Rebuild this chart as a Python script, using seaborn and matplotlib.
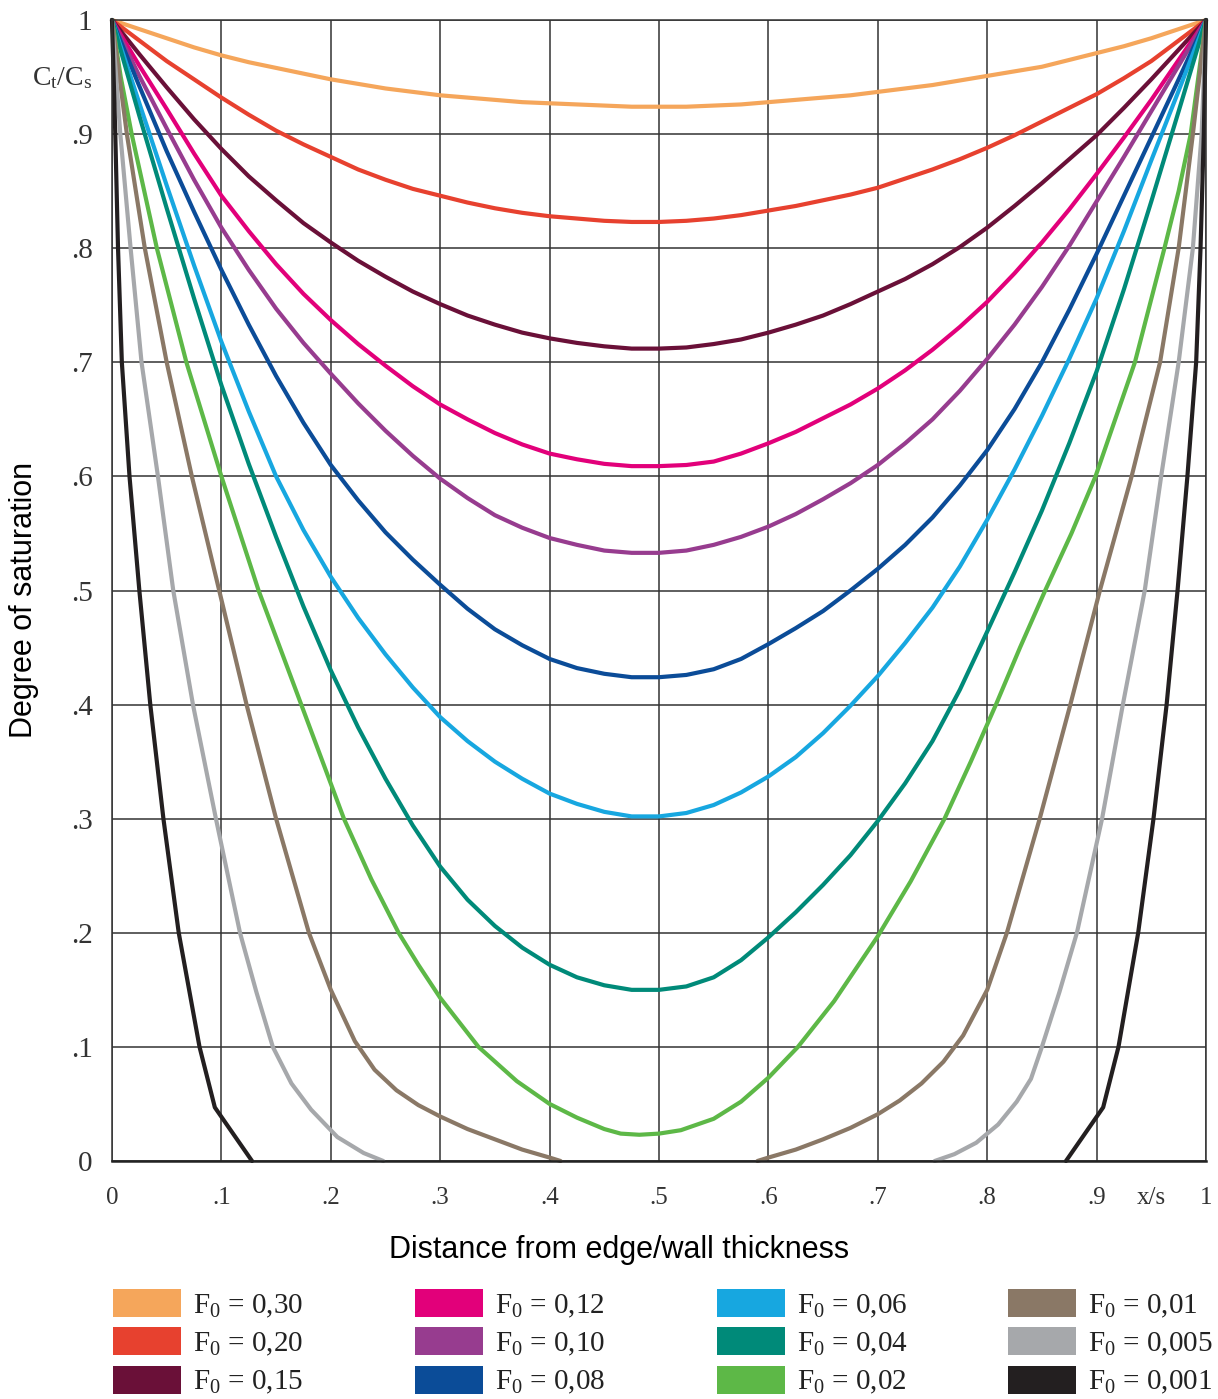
import numpy as np
import pandas as pd
import matplotlib
matplotlib.use("Agg")
import matplotlib.pyplot as plt
from matplotlib.patches import Patch
import seaborn as sns

# ---------------------------------------------------------------------------
# Saturation profiles C_t/C_s across the wall for several Fourier numbers
# ---------------------------------------------------------------------------
FO_LABELS = ["0,30", "0,20", "0,15", "0,12", "0,10", "0,08",
             "0,06", "0,04", "0,02", "0,01", "0,005", "0,001"]
FO_COLORS = ["#F5A65B", "#E7412F", "#6A1038", "#E2007A", "#973C8F", "#0B4C98",
             "#17A7E0", "#008A79", "#5DB847", "#8A7866", "#A6A8AB", "#231F20"]

# shared positions (x/s) for the shallow profiles, step 0.025
X_GRID = [0.000, 0.025, 0.050, 0.075, 0.100, 0.125, 0.150, 0.175, 0.200, 0.225,
          0.250, 0.275, 0.300, 0.325, 0.350, 0.375, 0.400, 0.425, 0.450, 0.475,
          0.500, 0.525, 0.550, 0.575, 0.600, 0.625, 0.650, 0.675, 0.700, 0.725,
          0.750, 0.775, 0.800, 0.825, 0.850, 0.875, 0.900, 0.925, 0.950, 0.975,
          1.000]

Y_030 = [1.000, 0.992, 0.984, 0.976, 0.969, 0.963, 0.958, 0.953, 0.948, 0.944,
         0.940, 0.937, 0.934, 0.932, 0.930, 0.928, 0.927, 0.926, 0.925, 0.924,
         0.924, 0.924, 0.925, 0.926, 0.928, 0.930, 0.932, 0.934, 0.937, 0.940,
         0.943, 0.947, 0.951, 0.955, 0.959, 0.965, 0.971, 0.977, 0.984, 0.992,
         1.000]
Y_020 = [1.000, 0.982, 0.964, 0.948, 0.932, 0.917, 0.903, 0.891, 0.880, 0.869,
         0.860, 0.852, 0.846, 0.840, 0.835, 0.831, 0.828, 0.826, 0.824, 0.823,
         0.823, 0.824, 0.826, 0.829, 0.833, 0.837, 0.842, 0.847, 0.853, 0.861,
         0.869, 0.878, 0.888, 0.899, 0.911, 0.923, 0.935, 0.949, 0.964, 0.982,
         1.000]
Y_015 = [1.000, 0.970, 0.941, 0.913, 0.887, 0.863, 0.842, 0.822, 0.805, 0.789,
         0.775, 0.762, 0.751, 0.741, 0.733, 0.726, 0.721, 0.717, 0.714, 0.712,
         0.712, 0.713, 0.716, 0.720, 0.726, 0.733, 0.741, 0.751, 0.762, 0.773,
         0.786, 0.801, 0.818, 0.837, 0.857, 0.878, 0.899, 0.923, 0.948, 0.974,
         1.000]
Y_012 = [1.000, 0.960, 0.922, 0.883, 0.846, 0.815, 0.786, 0.760, 0.737, 0.716,
         0.697, 0.679, 0.663, 0.650, 0.638, 0.628, 0.620, 0.615, 0.611, 0.609,
         0.609, 0.610, 0.613, 0.620, 0.629, 0.639, 0.651, 0.663, 0.677, 0.693,
         0.711, 0.731, 0.753, 0.778, 0.805, 0.834, 0.865, 0.897, 0.930, 0.965,
         1.000]
Y_010 = [1.000, 0.951, 0.905, 0.860, 0.818, 0.781, 0.747, 0.717, 0.690, 0.664,
         0.640, 0.618, 0.598, 0.581, 0.566, 0.555, 0.546, 0.540, 0.535, 0.533,
         0.533, 0.535, 0.540, 0.547, 0.556, 0.567, 0.580, 0.594, 0.610, 0.629,
         0.650, 0.675, 0.703, 0.733, 0.766, 0.802, 0.841, 0.880, 0.920, 0.960,
         1.000]
Y_008 = [1.000, 0.942, 0.885, 0.832, 0.781, 0.733, 0.688, 0.647, 0.610, 0.579,
         0.551, 0.527, 0.505, 0.484, 0.466, 0.452, 0.440, 0.432, 0.427, 0.424,
         0.424, 0.426, 0.431, 0.440, 0.453, 0.467, 0.482, 0.500, 0.519, 0.540,
         0.564, 0.592, 0.623, 0.659, 0.700, 0.746, 0.795, 0.846, 0.897, 0.948,
         1.000]
Y_006 = [1.000, 0.927, 0.855, 0.785, 0.718, 0.657, 0.600, 0.553, 0.512, 0.476,
         0.444, 0.415, 0.389, 0.368, 0.350, 0.335, 0.322, 0.313, 0.306, 0.302,
         0.302, 0.305, 0.312, 0.323, 0.337, 0.354, 0.375, 0.399, 0.425, 0.454,
         0.485, 0.521, 0.562, 0.606, 0.653, 0.703, 0.756, 0.815, 0.877, 0.938,
         1.000]
Y_004 = [1.000, 0.916, 0.835, 0.756, 0.680, 0.611, 0.547, 0.486, 0.430, 0.380,
         0.335, 0.294, 0.258, 0.229, 0.206, 0.187, 0.172, 0.161, 0.154, 0.150,
         0.150, 0.153, 0.161, 0.176, 0.196, 0.218, 0.242, 0.268, 0.298, 0.331,
         0.368, 0.413, 0.464, 0.516, 0.570, 0.629, 0.692, 0.764, 0.841, 0.920,
         1.000]

# steeper profile, sampled along the curve
X_002 = [0, 0.008, 0.018, 0.041, 0.068, 0.10, 0.134, 0.173, 0.212, 0.237,
         0.262, 0.28, 0.30, 0.335, 0.37, 0.40, 0.425, 0.45, 0.465, 0.482,
         0.50, 0.52, 0.55, 0.575, 0.60, 0.627, 0.66, 0.70, 0.73, 0.761,
         0.785, 0.808, 0.83, 0.853, 0.877, 0.899, 0.935, 0.962, 0.975, 0.986,
         0.993, 1]
Y_002 = [1, 0.95, 0.9, 0.8, 0.7, 0.6, 0.5, 0.4, 0.3, 0.247,
         0.2, 0.172, 0.143, 0.1, 0.07, 0.050, 0.038, 0.028, 0.024, 0.023,
         0.024, 0.027, 0.037, 0.052, 0.073, 0.1, 0.14, 0.197, 0.245, 0.3,
         0.35, 0.4, 0.45, 0.5, 0.55, 0.6, 0.7, 0.8, 0.85, 0.9,
         0.95, 1]

# profiles that reach zero in the core: left and right branches
X_001_L = [0, 0.0136, 0.030, 0.050, 0.073, 0.098, 0.123, 0.150, 0.180, 0.200,
           0.222, 0.240, 0.260, 0.280, 0.300, 0.325, 0.350, 0.375, 0.400, 0.410]
Y_001_L = [1, 0.9, 0.8, 0.7, 0.6, 0.5, 0.4, 0.3, 0.2, 0.15,
           0.105, 0.080, 0.062, 0.049, 0.039, 0.028, 0.019, 0.010, 0.003, 0]
X_001_R = [0.59, 0.600, 0.625, 0.650, 0.675, 0.700, 0.720, 0.740, 0.760, 0.778,
           0.800, 0.818, 0.848, 0.876, 0.903, 0.932, 0.958, 0.975, 0.988, 1]
Y_001_R = [0, 0.003, 0.010, 0.019, 0.029, 0.041, 0.053, 0.068, 0.087, 0.11,
           0.15, 0.2, 0.3, 0.4, 0.5, 0.6, 0.7, 0.8, 0.9, 1]

X_0005_L = [0, 0.0076, 0.017, 0.027, 0.042, 0.056, 0.074, 0.095, 0.117, 0.132,
            0.147, 0.164, 0.182, 0.206, 0.230, 0.248]
Y_0005_L = [1, 0.9, 0.8, 0.7, 0.6, 0.5, 0.4, 0.3, 0.2, 0.148,
            0.1, 0.068, 0.045, 0.021, 0.007, 0]
X_0005_R = [0.752, 0.770, 0.790, 0.810, 0.827, 0.840, 0.850, 0.866, 0.882, 0.905,
            0.924, 0.944, 0.959, 0.975, 0.988, 0.996, 1]
Y_0005_R = [0, 0.006, 0.016, 0.032, 0.052, 0.072, 0.1, 0.148, 0.2, 0.3,
            0.4, 0.5, 0.6, 0.7, 0.8, 0.9, 1]

X_0001_L = [0, 0.003, 0.0055, 0.009, 0.016, 0.025, 0.035, 0.047, 0.061, 0.080,
            0.094, 0.128]
Y_0001_L = [1, 0.9, 0.8, 0.7, 0.6, 0.5, 0.4, 0.3, 0.2, 0.1, 0.047, 0]
X_0001_R = [0.872, 0.906, 0.920, 0.938, 0.952, 0.964, 0.974, 0.983, 0.991,
            0.995, 0.998, 1]
Y_0001_R = [0, 0.047, 0.1, 0.2, 0.3, 0.4, 0.5, 0.6, 0.7, 0.8, 0.9, 1]

X_TICK_LABELS = ["0", ".1", ".2", ".3", ".4", ".5", ".6", ".7", ".8", ".9", "1"]
Y_TICK_LABELS = ["0", ".1", ".2", ".3", ".4", ".5", ".6", ".7", ".8", ".9", "1"]

# ---------------------------------------------------------------------------
segments = [
    ("0,30", X_GRID, Y_030), ("0,20", X_GRID, Y_020), ("0,15", X_GRID, Y_015),
    ("0,12", X_GRID, Y_012), ("0,10", X_GRID, Y_010), ("0,08", X_GRID, Y_008),
    ("0,06", X_GRID, Y_006), ("0,04", X_GRID, Y_004), ("0,02", X_002, Y_002),
    ("0,01", X_001_L, Y_001_L), ("0,01", X_001_R, Y_001_R),
    ("0,005", X_0005_L, Y_0005_L), ("0,005", X_0005_R, Y_0005_R),
    ("0,001", X_0001_L, Y_0001_L), ("0,001", X_0001_R, Y_0001_R),
]
frames = []
for i, (fo, xs, ys) in enumerate(segments):
    frames.append(pd.DataFrame({"x": xs, "y": ys, "fo": fo, "seg": f"s{i}"}))
df = pd.concat(frames, ignore_index=True)

sns.set_theme(style="white")
plt.rcParams["font.family"] = ["Liberation Serif", "DejaVu Serif"]
plt.rcParams["mathtext.fontset"] = "custom"
plt.rcParams["mathtext.rm"] = "Liberation Serif"
plt.rcParams["mathtext.it"] = "Liberation Serif:italic"

W, H = 1218, 1399
fig = plt.figure(figsize=(W / 100, H / 100), dpi=100, facecolor="white")
L, R, T, B = 112, 1206, 20, 1161
ax = fig.add_axes([L / W, 1 - B / H, (R - L) / W, (B - T) / H])

palette = dict(zip(FO_LABELS, FO_COLORS))
sns.lineplot(data=df, x="x", y="y", hue="fo", units="seg", estimator=None,
             sort=False, palette=palette, hue_order=FO_LABELS, legend=False,
             linewidth=3.0, ax=ax)
for ln in ax.lines:
    ln.set_clip_on(False)
    ln.set_solid_joinstyle("round")

ax.set_xlim(0, 1)
ax.set_ylim(0, 1)
ticks = np.round(np.arange(0, 1.01, 0.1), 2)
ax.set_xticks(ticks)
ax.set_xticklabels(X_TICK_LABELS)
ax.set_yticks(ticks)
ax.set_yticklabels(Y_TICK_LABELS)
ax.set_xticks([0.95], minor=True)
ax.set_xticklabels(["x/s"], minor=True)
ax.set_yticks([0.952], minor=True)
ax.set_yticklabels([r"C$_\mathrm{t}$/C$_\mathrm{s}$"], minor=True)

ax.tick_params(axis="both", which="both", length=0, colors="#333333")
ax.tick_params(axis="x", which="both", pad=19, labelsize=18)
ax.tick_params(axis="y", which="major", pad=14, labelsize=21)
ax.tick_params(axis="y", which="minor", pad=14, labelsize=20)

ax.set_axisbelow(True)
ax.grid(True, which="major", color="#333333", linewidth=1.1)
ax.grid(False, which="minor")
for side in ["top", "right", "left"]:
    ax.spines[side].set_color("#333333")
    ax.spines[side].set_linewidth(1.1)
ax.spines["bottom"].set_color("#222222")
ax.spines["bottom"].set_linewidth(1.8)

ax.set_xlabel("Distance from edge/wall thickness", fontfamily="Liberation Sans",
              fontsize=22, color="black")
ax.xaxis.label.set_va("center")
ax.xaxis.set_label_coords((619 - L) / (R - L), (B - 1250) / (B - T))
ax.set_ylabel("Degree of saturation", fontfamily="Liberation Sans",
              fontsize=22, color="black")
ax.yaxis.label.set_va("center")
ax.yaxis.set_label_coords((24 - L) / (R - L), (B - 600) / (B - T))

# legend: four columns of three entries
col_left = [113, 415, 717, 1008]
for c in range(4):
    handles = [Patch(facecolor=FO_COLORS[3 * c + r], edgecolor="none",
                     label="F$_\\mathrm{0}$ = " + FO_LABELS[3 * c + r])
               for r in range(3)]
    leg = fig.legend(handles=handles, loc="upper left",
                     bbox_to_anchor=(col_left[c] / W, 1 - 1289 / H),
                     frameon=False, fontsize=21, borderpad=0, borderaxespad=0,
                     handlelength=2.33, handleheight=1.1, handletextpad=0.42,
                     labelspacing=0.27)
    for t in leg.get_texts():
        t.set_color("#222222")

fig.savefig("out.png", dpi=100, facecolor="white")
